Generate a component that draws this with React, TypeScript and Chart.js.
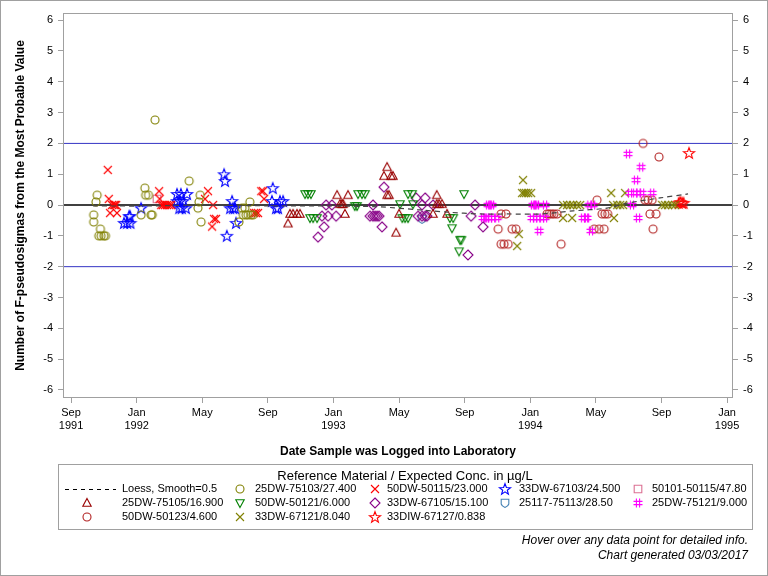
import React, { useEffect, useRef } from "react";
import { Chart, registerables } from "chart.js";

Chart.register(...registerables);

// x values are months since 1 Sep 1991
const monthTicks = [0, 4, 8, 12, 16, 20, 24, 28, 32, 36, 40];
const monthNames = ["Sep", "Jan", "May", "Sep", "Jan", "May", "Sep", "Jan", "May", "Sep", "Jan"];
const yearNames = ["1991", "1992", "", "", "1993", "", "", "1994", "", "", "1995"];
const yTicks = [-6, -5, -4, -3, -2, -1, 0, 1, 2, 3, 4, 5, 6];

const loessPts: [number, number][] = [
  [1.34, -0.03], [4.82, -0.03], [7.87, 0], [12.74, -0.03], [15.79, -0.03], [18.84, -0.06],
  [21.28, -0.16], [22.93, -0.23], [24.94, -0.29], [26.59, -0.29], [28.6, -0.29], [30.61, -0.19],
  [32.68, -0.1], [33.9, 0.06], [35.91, 0.23], [37.62, 0.36],
];

const s75103: [number, number][] = [
  [1.59, 0.32], [1.52, 0.1], [1.38, -0.32], [1.38, -0.55], [1.79, -0.78], [1.69, -1.0], [1.83, -1.0], [2.0, -1.0], [2.1, -1.0],
  [4.5, 0.55], [4.55, 0.32], [4.72, 0.32], [4.27, -0.32], [4.88, -0.32], [4.95, -0.32], [5.12, 2.76],
  [7.2, 0.78], [7.87, 0.32], [7.8, 0.1], [7.74, -0.1], [7.93, -0.55],
  [10.43, -0.1], [10.6, -0.1], [10.9, 0.1], [10.5, -0.32], [10.67, -0.32], [10.8, -0.32], [10.98, -0.32], [11.1, -0.32], [10.24, -0.55],
];

const s50115: [number, number][] = [
  [2.24, 1.14], [2.3, 0.2], [2.38, -0.26], [2.8, -0.26], [2.5, 0], [2.6, 0], [2.68, 0], [2.75, 0],
  [5.37, 0.45], [5.4, 0.2], [5.5, 0], [5.6, 0], [5.73, 0], [5.85, 0], [5.98, 0], [6.1, 0],
  [8.35, 0.45], [8.17, 0.2], [8.66, 0], [8.72, -0.45], [8.84, -0.45], [8.6, -0.7],
  [11.6, 0.45], [11.7, 0.45], [11.77, 0.2], [11.16, -0.26], [11.28, -0.26], [11.4, -0.26],
];

const s67103: [number, number][] = [
  [3.23, -0.58], [3.42, -0.58], [3.62, -0.58], [3.54, -0.36], [3.6, -0.36], [4.27, -0.1],
  [6.46, 0.36], [6.7, 0.36], [7.07, 0.36], [6.46, 0.13], [6.65, 0.13], [6.83, 0.13], [6.6, -0.1], [6.75, -0.1], [7.0, -0.1],
  [9.33, 1.0], [9.39, 0.78], [9.82, 0.13], [9.7, -0.1], [9.88, -0.1], [10.0, -0.1], [10.06, -0.58], [9.5, -1.0],
  [12.3, 0.55], [12.25, 0.13], [12.5, -0.1], [12.62, -0.1], [12.74, 0.13], [12.93, 0.13],
];

const s50101: [number, number][] = [[5.24, 0.2]];

const s75105: [number, number][] = [
  [13.23, -0.6], [13.35, -0.29], [13.54, -0.29], [13.78, -0.29], [13.96, -0.29],
  [16.22, 0.32], [16.89, 0.32], [16.4, 0.03], [16.52, 0.03], [16.59, 0.03], [16.7, -0.29],
  [19.27, 1.23], [19.08, 0.94], [19.51, 0.94], [19.63, 0.94], [19.27, 0.32], [19.39, 0.32], [19.82, -0.9], [20.0, -0.29],
  [22.3, 0.32], [22.3, 0.03], [22.44, 0.03], [22.62, 0.03], [22.07, -0.29], [22.93, -0.29],
];

const s50121: [number, number][] = [
  [14.27, 0.36], [14.45, 0.36], [14.63, 0.36], [14.57, -0.42], [14.76, -0.42], [15.0, -0.42],
  [17.3, -0.03], [17.44, -0.03], [17.5, 0.36], [17.74, 0.36], [17.93, 0.36],
  [20.06, 0.03], [20.2, -0.42], [20.37, -0.42], [20.55, -0.42], [20.55, 0.36], [20.8, 0.36], [20.85, 0.03],
  [23.96, 0.36], [23.1, -0.42], [23.3, -0.42], [23.23, -0.75], [23.72, -1.13], [23.8, -1.13], [23.66, -1.5],
];

const s67105: [number, number][] = [
  [15.55, 0], [15.9, 0], [15.3, -0.36], [15.67, -0.36], [16.16, -0.36], [15.43, -0.71], [15.06, -1.04],
  [18.41, 0], [18.23, -0.36], [18.41, -0.36], [18.54, -0.36], [18.66, -0.36], [18.78, -0.36], [18.96, -0.71], [19.08, 0.58],
  [21.04, 0.23], [21.59, 0.23], [21.4, 0], [21.16, -0.36], [21.4, -0.36], [21.59, -0.36], [21.7, -0.36], [22.07, 0],
  [24.63, 0], [24.39, -0.36], [25.12, -0.71], [24.2, -1.62],
];

const s25117: [number, number][] = [[21.4, -0.45]];

const s75121: [number, number][] = [
  [25.43, 0], [25.55, 0], [25.67, 0], [25.12, -0.42], [25.25, -0.42], [25.37, -0.42], [25.55, -0.42], [25.73, -0.42], [25.98, -0.42],
  [28.17, 0], [28.3, 0], [28.41, 0], [28.9, 0], [28.1, -0.42], [28.3, -0.42], [28.48, -0.42], [28.72, -0.42], [28.9, -0.42], [28.54, -0.84],
  [31.22, -0.42], [31.4, -0.42], [31.46, -0.42], [31.6, 0], [31.83, 0], [31.7, -0.84],
  [33.96, 1.66], [34.76, 1.23], [34.45, 0.81], [34.08, 0.39], [34.39, 0.39], [34.6, 0.39], [34.82, 0.39], [35.43, 0.39], [34.2, 0], [34.57, -0.42],
];

const s50123: [number, number][] = [
  [26.22, -0.29], [26.52, -0.29], [26.04, -0.78], [26.89, -0.78], [27.13, -0.78], [26.22, -1.27], [26.4, -1.27], [26.65, -1.27],
  [29.02, -0.29], [29.15, -0.29], [29.3, -0.29], [29.45, -0.29], [29.63, -0.29], [29.88, -1.27],
  [32.07, 0.16], [32.38, -0.29], [32.55, -0.29], [32.72, -0.29], [31.9, -0.78], [32.2, -0.78], [32.5, -0.78],
  [34.88, 2.0], [35.85, 1.56], [35.0, 0.16], [35.18, 0.16], [35.43, 0.16], [35.3, -0.29], [35.67, -0.29], [35.49, -0.78],
];

const s67121: [number, number][] = [
  [27.56, 0.81], [27.5, 0.39], [27.62, 0.39], [27.74, 0.39], [27.87, 0.39], [28.05, 0.39], [27.3, -0.94], [27.2, -1.33],
  [30.0, 0], [30.24, 0], [30.43, 0], [30.6, 0], [30.85, 0], [31.04, 0], [30.0, -0.42], [30.55, -0.42],
  [32.93, 0.39], [33.78, 0.39], [33.1, -0.42], [33.05, 0], [33.3, 0], [33.48, 0], [33.66, 0],
  [36.04, 0], [36.22, 0], [36.4, 0], [36.65, 0], [36.83, 0],
];

const s67127: [number, number][] = [[37.68, 1.69], [37.05, 0.07], [37.15, 0.1], [37.26, 0.07], [37.35, 0.07]];

const FONT = "'Liberation Sans', Arial, sans-serif";

function makeMarker(shape: string, color: string): HTMLCanvasElement {
  const s = 16;
  const c = document.createElement("canvas");
  c.width = s;
  c.height = s;
  const ctx = c.getContext("2d")!;
  ctx.strokeStyle = color;
  ctx.lineWidth = 1.1;
  ctx.translate(s / 2, s / 2);
  ctx.beginPath();
  if (shape === "circle") {
    ctx.arc(0, 0, 4, 0, Math.PI * 2);
  } else if (shape === "x") {
    ctx.moveTo(-4, -4); ctx.lineTo(4, 4);
    ctx.moveTo(4, -4); ctx.lineTo(-4, 4);
  } else if (shape === "star") {
    for (let i = 0; i < 10; i++) {
      const r = i % 2 === 0 ? 5.8 : 2.4;
      const a = -Math.PI / 2 + (i * Math.PI) / 5;
      const px = r * Math.cos(a), py = r * Math.sin(a) + 0.5;
      if (i === 0) ctx.moveTo(px, py); else ctx.lineTo(px, py);
    }
    ctx.closePath();
  } else if (shape === "square") {
    ctx.rect(-3.8, -3.8, 7.6, 7.6);
  } else if (shape === "triangle") {
    ctx.moveTo(0, -4.5); ctx.lineTo(4.2, 3.3); ctx.lineTo(-4.2, 3.3); ctx.closePath();
  } else if (shape === "invtriangle") {
    ctx.moveTo(0, 4.5); ctx.lineTo(4.2, -3.3); ctx.lineTo(-4.2, -3.3); ctx.closePath();
  } else if (shape === "diamond") {
    ctx.moveTo(0, -5); ctx.lineTo(5, 0); ctx.lineTo(0, 5); ctx.lineTo(-5, 0); ctx.closePath();
  } else if (shape === "shield") {
    ctx.moveTo(-3.8, -3.8); ctx.lineTo(3.8, -3.8); ctx.lineTo(3.8, 1);
    ctx.quadraticCurveTo(3.2, 3.3, 0, 4.4); ctx.quadraticCurveTo(-3.2, 3.3, -3.8, 1); ctx.closePath();
  } else if (shape === "hash") {
    ctx.moveTo(-1.6, -4.5); ctx.lineTo(-1.6, 4.5);
    ctx.moveTo(1.6, -4.5); ctx.lineTo(1.6, 4.5);
    ctx.moveTo(-4.5, -1.6); ctx.lineTo(4.5, -1.6);
    ctx.moveTo(-4.5, 1.6); ctx.lineTo(4.5, 1.6);
  }
  ctx.stroke();
  return c;
}

type SeriesDef = { label: string; data: [number, number][]; shape: string; color: string };

const series: SeriesDef[] = [
  { label: "25DW-75103/27.400", data: s75103, shape: "circle", color: "#808000" },
  { label: "50DW-50115/23.000", data: s50115, shape: "x", color: "#ff0000" },
  { label: "33DW-67103/24.500", data: s67103, shape: "star", color: "#0000ff" },
  { label: "50101-50115/47.80", data: s50101, shape: "square", color: "#db7093" },
  { label: "25DW-75105/16.900", data: s75105, shape: "triangle", color: "#990000" },
  { label: "50DW-50121/6.000", data: s50121, shape: "invtriangle", color: "#008000" },
  { label: "33DW-67105/15.100", data: s67105, shape: "diamond", color: "#880088" },
  { label: "25117-75113/28.50", data: s25117, shape: "shield", color: "#4682b4" },
  { label: "25DW-75121/9.000", data: s75121, shape: "hash", color: "#ff00ff" },
  { label: "50DW-50123/4.600", data: s50123, shape: "circle", color: "#b22222" },
  { label: "33DW-67121/8.040", data: s67121, shape: "x", color: "#808000" },
  { label: "33DIW-67127/0.838", data: s67127, shape: "star", color: "#ff0000" },
];

// legend grid: [row, col] for each series; loess at [0,0]
const legendSlots: [number, number][] = [
  [0, 1], [0, 2], [0, 3], [0, 4], [1, 0], [1, 1], [1, 2], [1, 3], [1, 4], [2, 0], [2, 1], [2, 2],
];

export default function App() {
  const ref = useRef<HTMLCanvasElement>(null);

  useEffect(() => {
    document.body.style.margin = "0";
    const canvas = ref.current!;
    const markers = series.map((s) => makeMarker(s.shape, s.color));

    const datasets: any[] = [
      {
        type: "line",
        label: "Loess, Smooth=0.5",
        data: loessPts.map(([x, y]) => ({ x, y })),
        borderColor: "#444",
        borderWidth: 1.2,
        borderDash: [5, 4],
        pointRadius: 0,
        showLine: true,
        fill: false,
        tension: 0.3,
      },
      ...series.map((s, i) => ({
        type: "scatter",
        label: s.label,
        data: s.data.map(([x, y]) => ({ x, y })),
        pointStyle: markers[i],
        pointRadius: 4,
        borderColor: s.color,
        backgroundColor: "transparent",
      })),
    ];

    const refLinesPlugin = {
      id: "extras",
      beforeDraw(chart: any) {
        const ctx = chart.ctx;
        ctx.save();
        ctx.fillStyle = "#fff";
        ctx.fillRect(0, 0, chart.width, chart.height);
        ctx.strokeStyle = "#a0a0a0";
        ctx.lineWidth = 1;
        ctx.strokeRect(0.5, 0.5, chart.width - 1, chart.height - 1);
        ctx.restore();
      },
      beforeDatasetsDraw(chart: any) {
        const ctx = chart.ctx;
        const a = chart.chartArea;
        const ys = chart.scales.y;
        ctx.save();
        const y2p = ys.getPixelForValue(2);
        const ym2p = ys.getPixelForValue(-2);
        const y0p = ys.getPixelForValue(0);
        ctx.strokeStyle = "#3535c4";
        ctx.lineWidth = 1;
        ctx.beginPath();
        ctx.moveTo(a.left, y2p); ctx.lineTo(a.right, y2p);
        ctx.moveTo(a.left, ym2p); ctx.lineTo(a.right, ym2p);
        ctx.stroke();
        ctx.strokeStyle = "#000";
        ctx.lineWidth = 1.4;
        ctx.beginPath();
        ctx.moveTo(a.left, y0p); ctx.lineTo(a.right, y0p);
        ctx.stroke();
        ctx.restore();
      },
      afterDraw(chart: any) {
        const ctx = chart.ctx;
        const a = chart.chartArea;
        ctx.save();
        // frame
        ctx.strokeStyle = "#a0a0a0";
        ctx.lineWidth = 1;
        ctx.strokeRect(Math.round(a.left) - 0.5, Math.round(a.top) - 0.5, Math.round(a.right - a.left) + 1, Math.round(a.bottom - a.top) + 1);

        // axis titles
        ctx.fillStyle = "#000";
        ctx.font = `bold 12px ${FONT}`;
        ctx.textAlign = "center";
        ctx.textBaseline = "middle";
        ctx.fillText("Date Sample was Logged into Laboratory", (a.left + a.right) / 2, 452);
        ctx.save();
        ctx.translate(21, (a.top + a.bottom) / 2);
        ctx.rotate(-Math.PI / 2);
        ctx.fillText("Number of F-pseudosigmas from the Most Probable Value", 0, 0);
        ctx.restore();

        // legend box
        ctx.strokeStyle = "#a0a0a0";
        ctx.strokeRect(58.5, 464.5, 694, 65);
        ctx.font = `13px ${FONT}`;
        ctx.fillText("Reference Material / Expected Conc. in \u00b5g/L", 405, 476);

        const markerX = [87, 240, 375, 505, 638];
        const textX = [122, 255, 387, 519, 652];
        const rowY = [489, 503, 517];
        ctx.font = `11px ${FONT}`;
        ctx.textAlign = "left";
        // loess entry
        ctx.strokeStyle = "#000";
        ctx.lineWidth = 1;
        ctx.setLineDash([4, 4]);
        ctx.beginPath();
        ctx.moveTo(65, rowY[0] + 0.5);
        ctx.lineTo(116, rowY[0] + 0.5);
        ctx.stroke();
        ctx.setLineDash([]);
        ctx.fillText("Loess, Smooth=0.5", textX[0], rowY[0]);
        series.forEach((s, i) => {
          const [r, c] = legendSlots[i];
          ctx.drawImage(markers[i], markerX[c] - 8, rowY[r] - 8);
          ctx.fillStyle = "#000";
          ctx.fillText(s.label, textX[c], rowY[r]);
        });

        // footer
        ctx.font = `italic 12px ${FONT}`;
        ctx.textAlign = "right";
        ctx.fillText("Hover over any data point for detailed info.", 748, 541);
        ctx.fillText("Chart generated 03/03/2017", 748, 556);
        ctx.restore();
      },
    };

    const yScale = (pos: string, w: number) => ({
      type: "linear",
      position: pos,
      min: -6.23,
      max: 6.2,
      afterBuildTicks: (s: any) => {
        s.ticks = yTicks.map((v) => ({ value: v }));
      },
      afterFit: (s: any) => {
        s.width = w;
      },
      ticks: {
        color: "#000",
        padding: 5,
        font: { family: FONT, size: 11 },
        callback: (v: any) => String(v),
      },
      grid: { drawOnChartArea: false, tickLength: 6, color: "#a0a0a0" },
      border: { display: false },
    });

    const chart = new Chart(canvas, {
      type: "scatter",
      data: { datasets },
      options: {
        animation: false,
        responsive: false,
        maintainAspectRatio: false,
        layout: { padding: { left: 0, right: 0, top: 14, bottom: 139 } },
        plugins: { legend: { display: false }, tooltip: { enabled: false } },
        scales: {
          x: {
            type: "linear",
            position: "bottom",
            min: -0.43,
            max: 40.3,
            afterBuildTicks: (s: any) => {
              s.ticks = monthTicks.map((v) => ({ value: v }));
            },
            afterFit: (s: any) => {
              s.height = 40;
            },
            ticks: {
              autoSkip: false,
              maxRotation: 0,
              color: "#000",
              padding: 3,
              font: { family: FONT, size: 11 },
              callback: (v: any) => {
                const i = monthTicks.indexOf(Number(v));
                return i < 0 ? "" : [monthNames[i], yearNames[i]];
              },
            },
            grid: { drawOnChartArea: false, tickLength: 6, color: "#a0a0a0" },
            border: { display: false },
          },
          y: yScale("left", 64),
          y2: yScale("right", 36),
        } as any,
      },
      plugins: [refLinesPlugin],
    } as any);

    return () => chart.destroy();
  }, []);

  return (
    <div style={{ width: 768, height: 576 }}>
      <canvas ref={ref} width={768} height={576} style={{ display: "block" }} />
    </div>
  );
}
